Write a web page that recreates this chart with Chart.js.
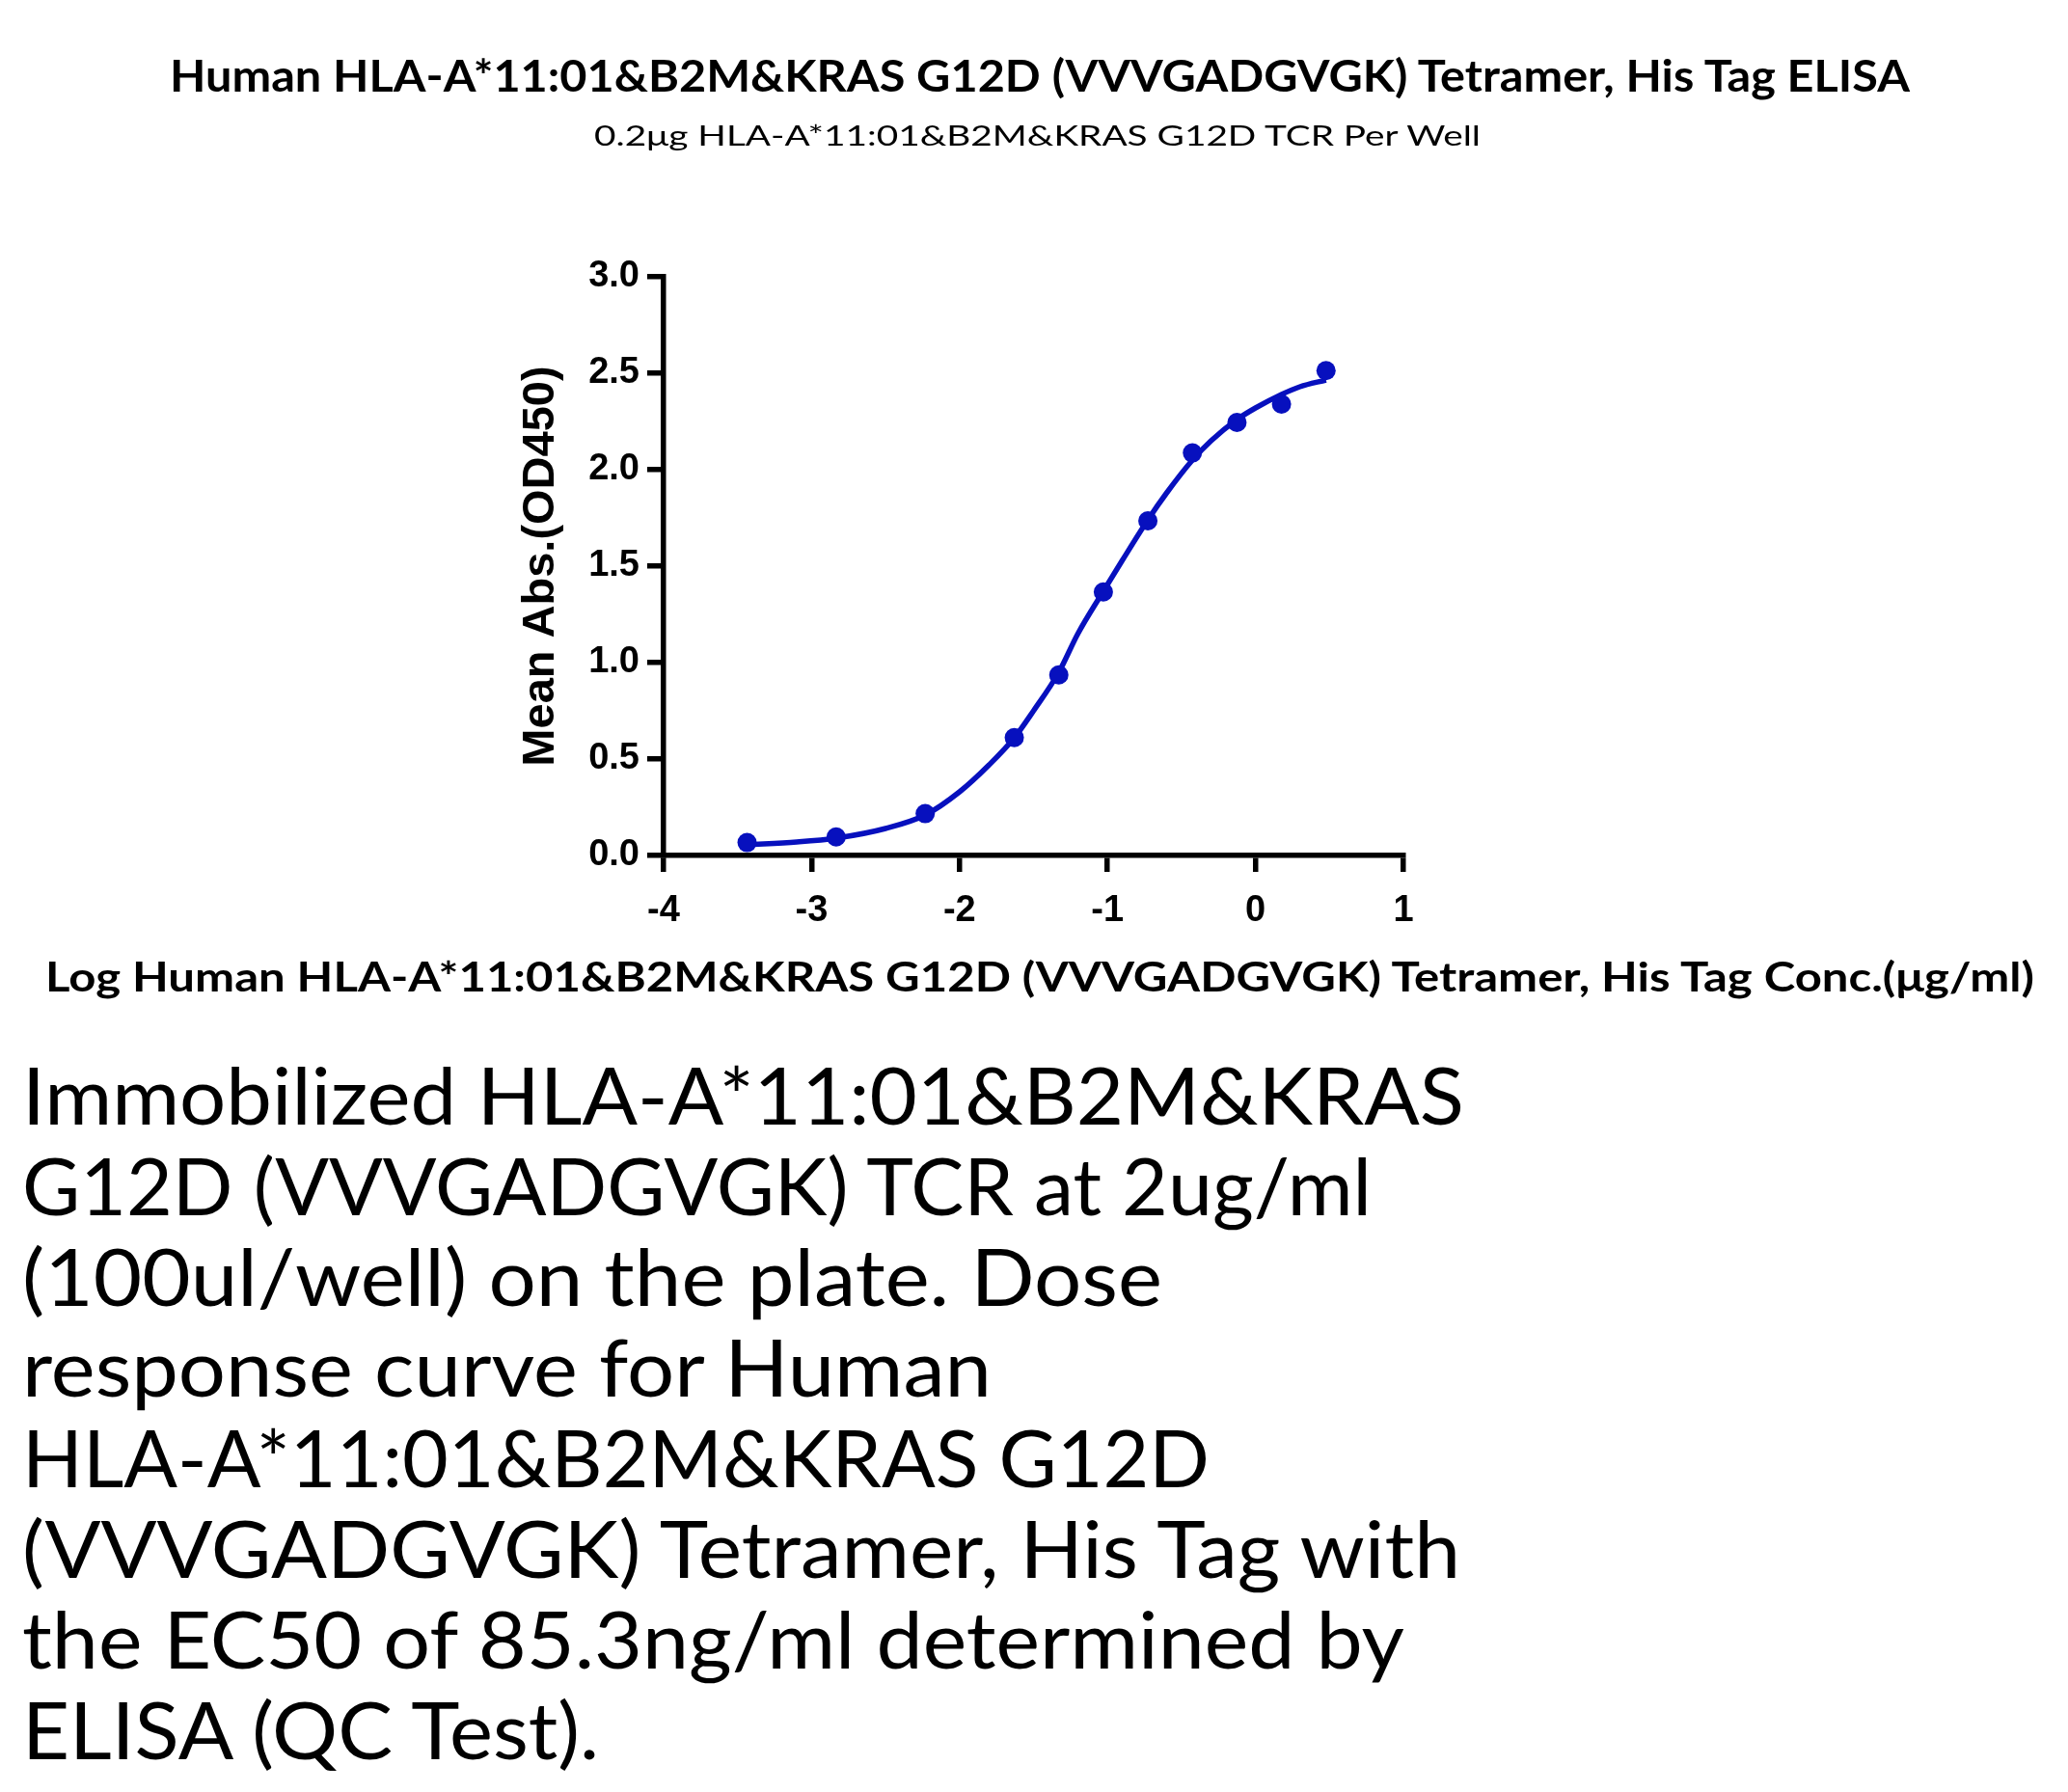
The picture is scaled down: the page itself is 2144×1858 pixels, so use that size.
<!DOCTYPE html>
<html>
<head>
<meta charset="utf-8">
<title>HLA-A*11:01&amp;B2M&amp;KRAS G12D Tetramer ELISA</title>
<script src="https://cdn.jsdelivr.net/npm/chart.js@4.4.1/dist/chart.umd.min.js"></script>
<style>
    html, body { margin: 0; padding: 0; background: #fff; }
    body { width: 2144px; height: 1858px; position: relative; overflow: hidden; }
    #chart { position: absolute; left: 0; top: 0; }
    .txt { position: absolute; white-space: nowrap; color: #000; }
    .txt div { transform-origin: 0 0; }
    .mk { display: inline-block; width: 0; height: 0; }
</style>
</head>
<body>
<canvas id="chart" width="2144" height="1000"></canvas>
<div id="title" class="txt"></div>
<div id="subtitle" class="txt"></div>
<div id="xtitle" class="txt"></div>
<div id="note" class="txt"></div>

<script>
    // measured points, log10 of conc. (ug/ml) vs mean OD450
    var logConc = [-3.436, -2.834, -2.232, -1.630, -1.329, -1.028, -0.727, -0.426, -0.125, 0.176, 0.477];
    var meanAbs = [0.067, 0.096, 0.217, 0.611, 0.936, 1.366, 1.735, 2.087, 2.245, 2.340, 2.514];

    // fitted curve
    var fitX = [-3.436, -3.1, -2.834, -2.5, -2.232, -2.0, -1.8, -1.63, -1.5, -1.329, -1.2, -1.028, -0.9, -0.727, -0.6, -0.426, -0.3, -0.125, 0.0, 0.176, 0.3, 0.477];
    var fitY = [0.056, 0.07, 0.09, 0.14, 0.21, 0.33, 0.47, 0.61, 0.75, 0.95, 1.15, 1.37, 1.53, 1.74, 1.88, 2.05, 2.15, 2.26, 2.32, 2.39, 2.43, 2.465];

    var xTicks = [-4, -3, -2, -1, 0, 1];
    var yTicks = [0, 0.5, 1.0, 1.5, 2.0, 2.5, 3.0];

    var titleText = 'Human HLA-A*11:01&B2M&KRAS G12D (VVVGADGVGK) Tetramer, His Tag ELISA';
    var subtitleText = '0.2\u03bcg HLA-A*11:01&B2M&KRAS G12D TCR Per Well';
    var xTitleText = 'Log Human HLA-A*11:01&B2M&KRAS G12D (VVVGADGVGK) Tetramer, His Tag Conc.(\u03bcg/ml)';
    var yTitleText = 'Mean Abs.(OD450)';
    var noteLines = [
        'Immobilized HLA-A*11:01&B2M&KRAS',
        'G12D (VVVGADGVGK) TCR at 2ug/ml',
        '(100ul/well) on the plate. Dose',
        'response curve for Human',
        'HLA-A*11:01&B2M&KRAS G12D',
        '(VVVGADGVGK) Tetramer, His Tag with',
        'the EC50 of 85.3ng/ml determined by',
        'ELISA (QC Test).'
    ];

    var BLUE = '#0710be';
    var TEXT_FONT = "Lato, 'Open Sans', sans-serif";
    var AXIS_FONT = "'Liberation Sans', Arial, sans-serif";

    var fitData = fitX.map(function (x, i) { return {x: x, y: fitY[i]}; });
    var pointData = logConc.map(function (x, i) { return {x: x, y: meanAbs[i]}; });

    var tickFont = {family: AXIS_FONT, size: 38, weight: 'bold'};

    var ctx = document.getElementById('chart').getContext('2d');
    var chart = new Chart(ctx, {
        type: 'scatter',
        data: {
            datasets: [
                {
                    data: fitData,
                    showLine: true,
                    borderColor: BLUE,
                    borderWidth: 5.5,
                    pointRadius: 0,
                    cubicInterpolationMode: 'monotone',
                    clip: false,
                    order: 2
                },
                {
                    data: pointData,
                    showLine: false,
                    pointRadius: 10,
                    pointBackgroundColor: BLUE,
                    pointBorderColor: BLUE,
                    pointBorderWidth: 0,
                    clip: false,
                    order: 1
                }
            ]
        },
        options: {
            responsive: false,
            animation: false,
            devicePixelRatio: 1,
            layout: {padding: {left: 533, right: 689, top: 287, bottom: 13}},
            plugins: {legend: {display: false}, tooltip: {enabled: false}},
            scales: {
                x: {
                    type: 'linear',
                    min: -4,
                    max: 1,
                    afterBuildTicks: function (s) { s.ticks = xTicks.map(function (v) { return {value: v}; }); },
                    afterFit: function (s) { s.height = 100; },
                    border: {display: true, color: '#000', width: 5.5},
                    grid: {drawOnChartArea: false, drawTicks: true, tickLength: 17, lineWidth: 5.5, color: '#000'},
                    ticks: {font: tickFont, color: '#000', padding: 18, callback: function (v) { return String(v); }}
                },
                y: {
                    min: 0,
                    max: 3,
                    afterBuildTicks: function (s) { s.ticks = yTicks.map(function (v) { return {value: v}; }); },
                    afterFit: function (s) { s.width = 155; },
                    border: {display: true, color: '#000', width: 5.5},
                    grid: {drawOnChartArea: false, drawTicks: true, tickLength: 17, lineWidth: 5.5, color: '#000'},
                    ticks: {font: tickFont, color: '#000', padding: 8, callback: function (v) { return v.toFixed(1); }},
                    title: {
                        display: true,
                        text: yTitleText,
                        color: '#000',
                        padding: 0,
                        font: {family: AXIS_FONT, size: 47, weight: 'bold'}
                    }
                }
            }
        }
    });

    // text blocks: size from cap height, stretch each line to its measured width, sit on the baseline
    function capRatio(weight, family) {
        var c = document.createElement('canvas').getContext('2d');
        c.font = weight + ' 100px ' + family;
        return c.measureText('H').actualBoundingBoxAscent / 100;
    }

    function place(id, lines, spec) {
        var el = document.getElementById(id);
        var size = spec.cap / capRatio(spec.weight, TEXT_FONT);
        el.style.fontFamily = TEXT_FONT;
        el.style.fontWeight = spec.weight;
        el.style.fontSize = size + 'px';
        el.style.lineHeight = (spec.gap || Math.round(size * 1.3)) + 'px';
        el.style.left = spec.left + 'px';
        el.style.top = '0px';
        var mark = null;
        lines.forEach(function (t, i) {
            var d = document.createElement('div');
            var s = document.createElement('span');
            s.textContent = t;
            d.appendChild(s);
            if (i === 0) {
                mark = document.createElement('span');
                mark.className = 'mk';
                d.appendChild(mark);
            }
            el.appendChild(d);
            var w = s.getBoundingClientRect().width;
            d.style.transform = 'scaleX(' + (spec.widths[i] / w) + ')';
        });
        var b = mark.getBoundingClientRect().bottom;
        el.style.top = (spec.baseline - b) + 'px';
    }

    place('title', [titleText], {left: 176, baseline: 95, cap: 34, widths: [1804], weight: 'bold'});
    place('subtitle', [subtitleText], {left: 616, baseline: 151, cap: 21, widths: [919], weight: 'normal'});
    place('xtitle', [xTitleText], {left: 47, baseline: 1028, cap: 31, widths: [2062], weight: 'bold'});
    place('note', noteLines, {left: 23, baseline: 1166, cap: 60, gap: 94, weight: 'normal',
        widths: [1495, 1399, 1182, 1005, 1231, 1491, 1433, 598]});
</script>
</body>
</html>
